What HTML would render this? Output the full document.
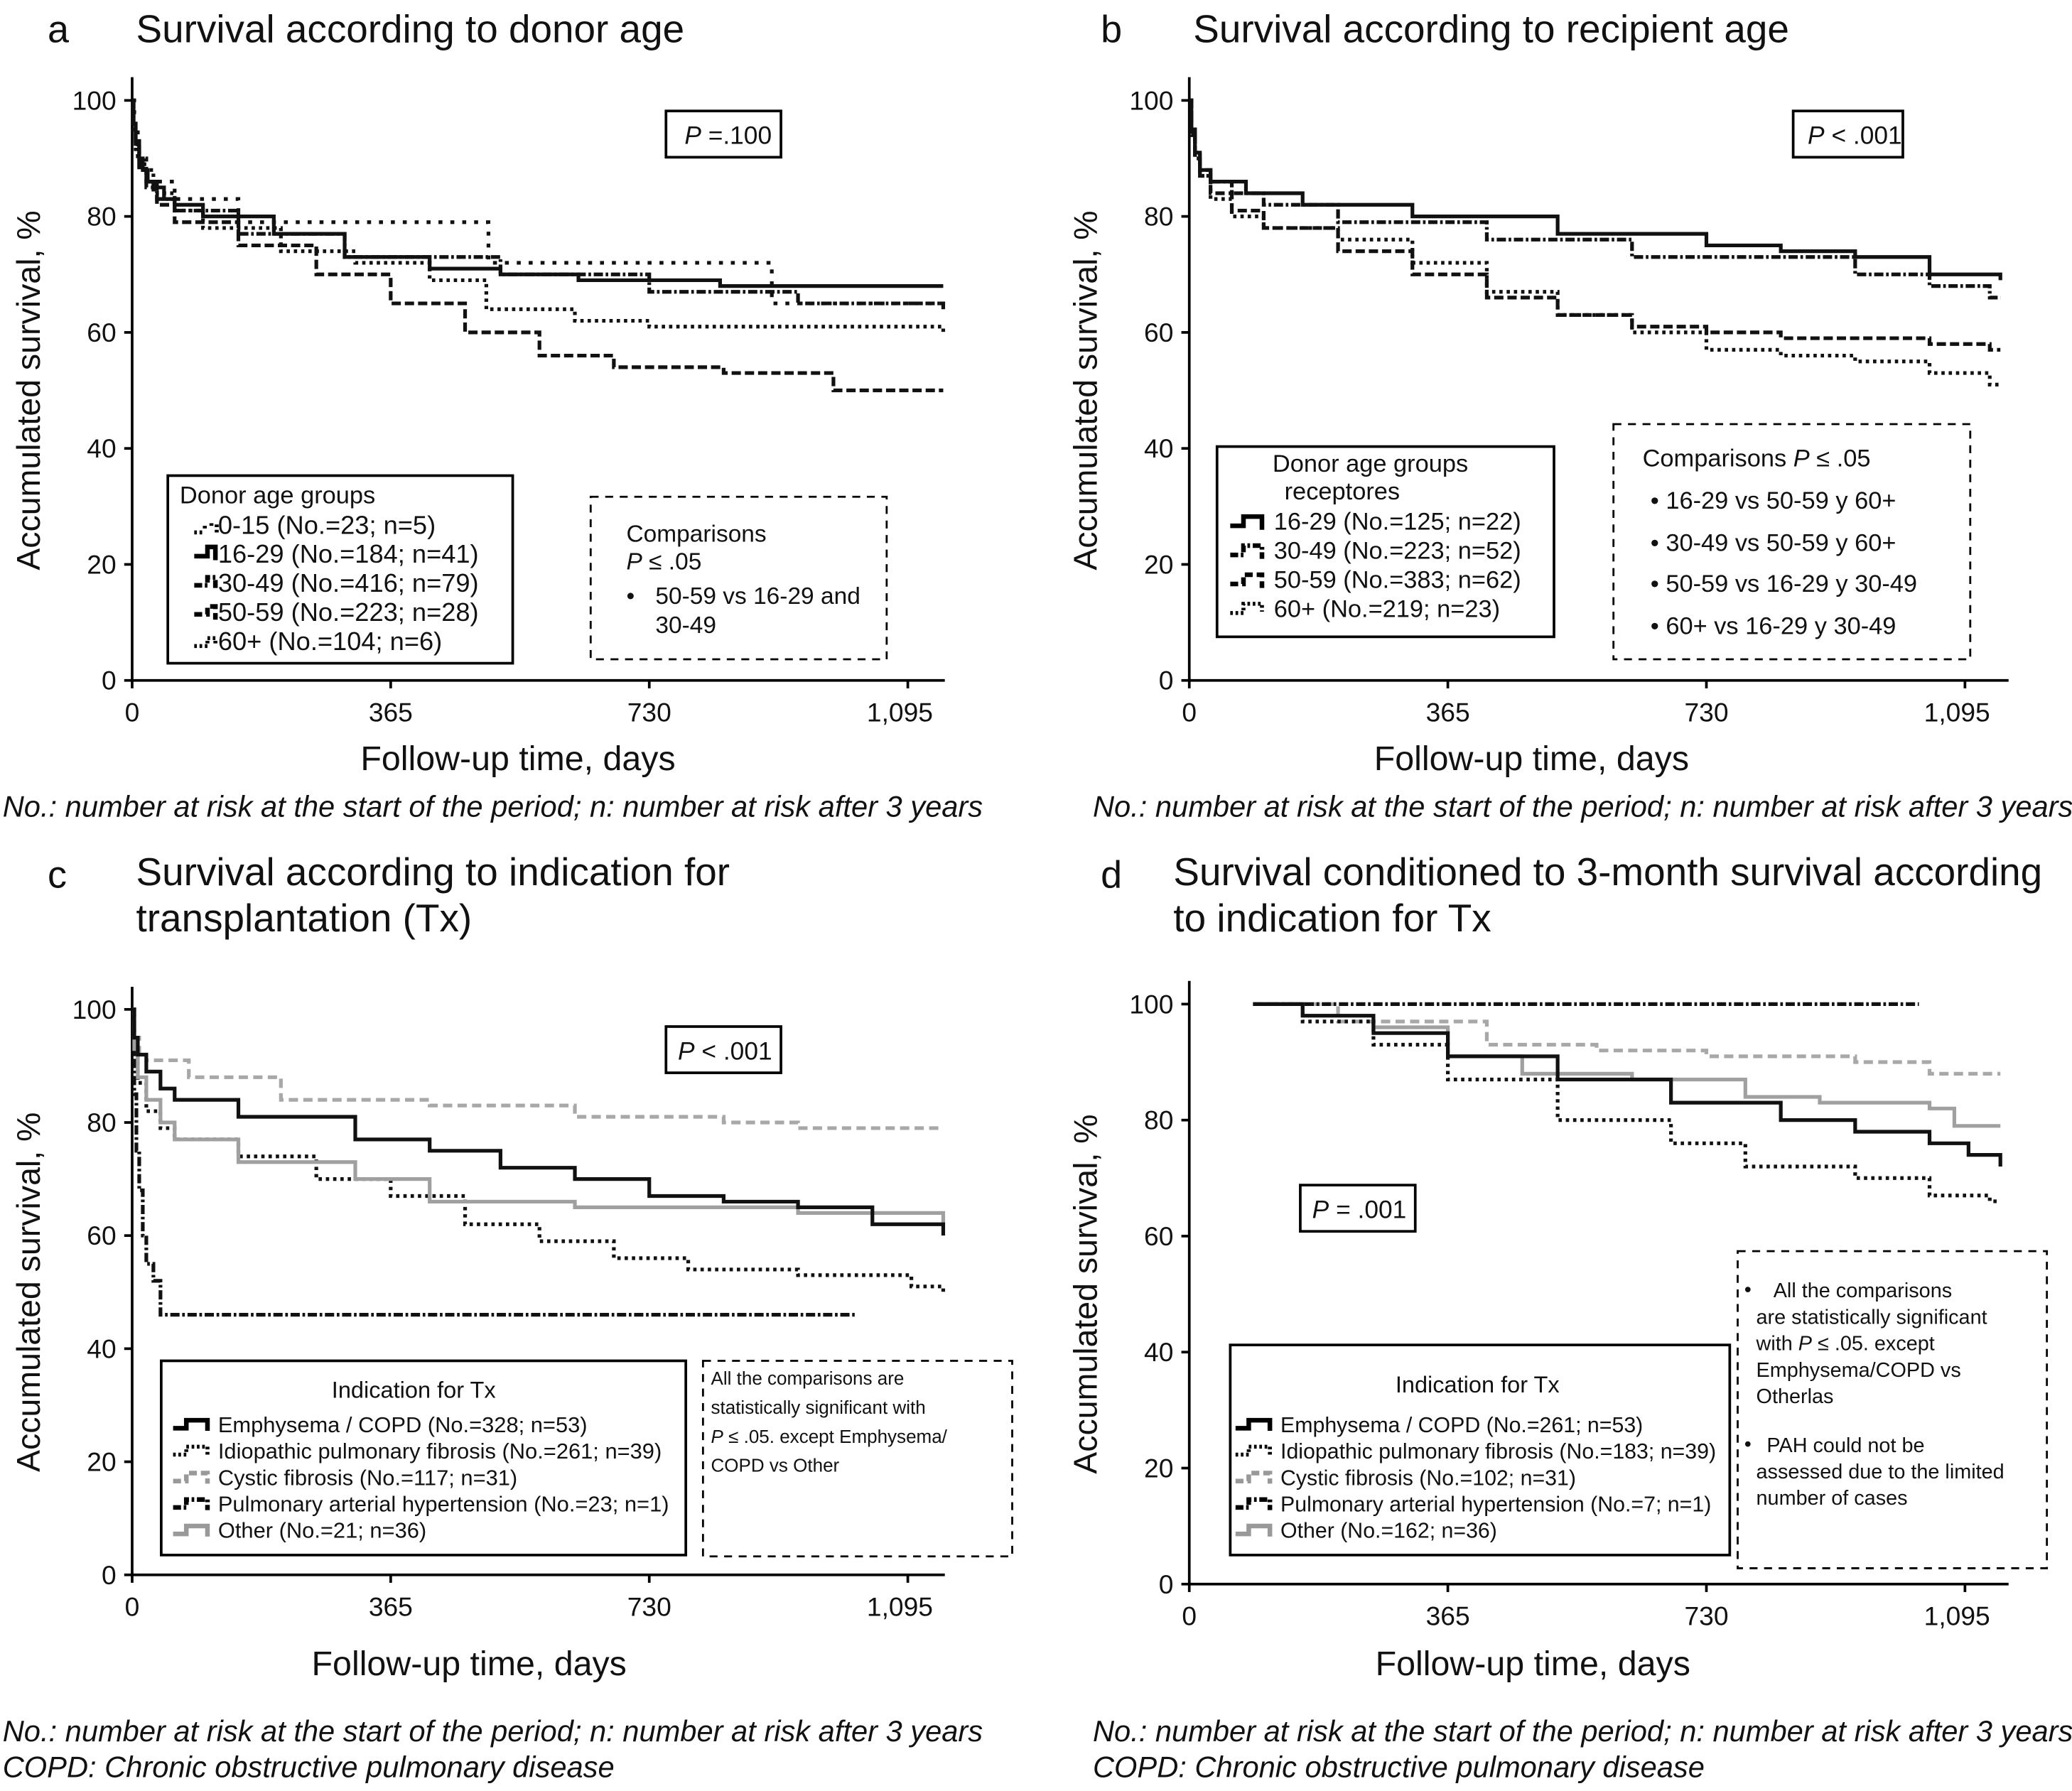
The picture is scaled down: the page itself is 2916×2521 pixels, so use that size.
<!DOCTYPE html>
<html><head><meta charset="utf-8"><style>
html,body{margin:0;padding:0;background:#fff;}
svg{display:block;}
text{font-family:"Liberation Sans",Arial,sans-serif;fill:#111;}
</style></head><body>
<svg id="fig" width="2916" height="2521" viewBox="0 0 1568 1355.6" preserveAspectRatio="none" xmlns="http://www.w3.org/2000/svg">
<rect width="1568" height="1356" fill="#fff"/>
<g id="static">
<text x="36" y="32" font-size="29">a</text>
<text x="103" y="32" font-size="29.5">Survival according to donor age</text>
<text x="833" y="32" font-size="29">b</text>
<text x="903" y="32" font-size="29.5">Survival according to recipient age</text>
<text x="36" y="672" font-size="29">c</text>
<text x="103" y="670" font-size="29.5">Survival according to indication for</text>
<text x="103" y="705" font-size="29.5">transplantation (Tx)</text>
<text x="833" y="672" font-size="29">d</text>
<text x="888" y="670" font-size="29.5">Survival conditioned to 3-month survival according</text>
<text x="888" y="705" font-size="29.5">to indication for Tx</text>
<text x="2" y="618" font-size="22.4" font-style="italic">No.: number at risk at the start of the period; n: number at risk after 3 years</text>
<text x="827" y="618" font-size="22.4" font-style="italic">No.: number at risk at the start of the period; n: number at risk after 3 years</text>
<text x="2" y="1318" font-size="22.4" font-style="italic">No.: number at risk at the start of the period; n: number at risk after 3 years</text>
<text x="2" y="1345" font-size="22.4" font-style="italic">COPD: Chronic obstructive pulmonary disease</text>
<text x="827" y="1318" font-size="22.4" font-style="italic">No.: number at risk at the start of the period; n: number at risk after 3 years</text>
<text x="827" y="1345" font-size="22.4" font-style="italic">COPD: Chronic obstructive pulmonary disease</text>

<g><rect x="504" y="84" width="87" height="35" fill="#fff" stroke="#000" stroke-width="2"/><text x="518" y="109" font-size="19"><tspan font-style="italic">P</tspan> =.100</text></g>
<g><rect x="1357" y="84" width="83" height="35" fill="#fff" stroke="#000" stroke-width="2"/><text x="1368" y="109" font-size="19"><tspan font-style="italic">P</tspan> &lt; .001</text></g>
<g><rect x="504" y="777" width="87" height="35" fill="#fff" stroke="#000" stroke-width="2"/><text x="513" y="802" font-size="19"><tspan font-style="italic">P</tspan> &lt; .001</text></g>
<g><rect x="984" y="897" width="87" height="35" fill="#fff" stroke="#000" stroke-width="2"/><text x="993" y="922" font-size="19"><tspan font-style="italic">P</tspan> = .001</text></g>

<g>
<rect x="127" y="360" width="261" height="142" fill="#fff" stroke="#000" stroke-width="2"/>
<text x="136" y="381" font-size="18.5">Donor age groups</text>
<text x="165" y="404" font-size="19.5">0-15 (No.=23; n=5)</text>
<text x="165" y="426" font-size="19.5">16-29 (No.=184; n=41)</text>
<text x="165" y="448" font-size="19.5">30-49 (No.=416; n=79)</text>
<text x="165" y="470" font-size="19.5">50-59 (No.=223; n=28)</text>
<text x="165" y="492" font-size="19.5">60+ (No.=104; n=6)</text>
<path d="M147 403 h6 M155 398 v4 M160 396 v3 M164 397 v6" stroke="#000" stroke-width="3" stroke-dasharray="2 2" fill="none"/>
<path d="M147 421 h10 v-7 h6 v10" stroke="#000" stroke-width="3.5" fill="none"/>
<path d="M147 443 h10 v-6 h6 v10" stroke="#000" stroke-width="3.5" stroke-dasharray="6 2 2 2" fill="none"/>
<path d="M147 465 h10 v-6 h6 v10" stroke="#000" stroke-width="3.5" stroke-dasharray="6 3" fill="none"/>
<path d="M147 489 h10 v-6 h6 v6" stroke="#000" stroke-width="3" stroke-dasharray="2 2" fill="none"/>
</g>
<g>
<rect x="447" y="376" width="224" height="123" fill="#fff" stroke="#000" stroke-width="1.5" stroke-dasharray="6 5"/>
<text x="474" y="410" font-size="18">Comparisons</text>
<text x="474" y="431" font-size="18"><tspan font-style="italic">P</tspan> ≤ .05</text>
<text x="474" y="457" font-size="18">•</text>
<text x="496" y="457" font-size="18">50-59 vs 16-29 and</text>
<text x="496" y="479" font-size="18">30-49</text>
</g>
<g>
<rect x="921" y="338" width="255" height="144" fill="#fff" stroke="#000" stroke-width="2"/>
<text x="963" y="357" font-size="18.5">Donor age groups</text>
<text x="972" y="378" font-size="18.5">receptores</text>
<text x="964" y="401" font-size="18.5">16-29 (No.=125; n=22)</text>
<text x="964" y="423" font-size="18.5">30-49 (No.=223; n=52)</text>
<text x="964" y="445" font-size="18.5">50-59 (No.=383; n=62)</text>
<text x="964" y="467" font-size="18.5">60+ (No.=219; n=23)</text>
<path d="M931 398 h10 v-7 h14 v10" stroke="#000" stroke-width="3.5" fill="none"/>
<path d="M931 420 h10 v-7 h14 v10" stroke="#000" stroke-width="3.5" stroke-dasharray="6 2 2 2" fill="none"/>
<path d="M931 442 h10 v-7 h14 v10" stroke="#000" stroke-width="3.5" stroke-dasharray="6 3" fill="none"/>
<path d="M931 464 h10 v-7 h14 v6" stroke="#000" stroke-width="3" stroke-dasharray="2 2" fill="none"/>
</g>
<g>
<rect x="1221" y="321" width="270" height="178" fill="#fff" stroke="#000" stroke-width="1.5" stroke-dasharray="6 5"/>
<text x="1243" y="353" font-size="18.5">Comparisons <tspan font-style="italic">P</tspan> ≤ .05</text>
<text x="1249" y="385" font-size="18.5">•   16-29 vs 50-59 y 60+</text>
<text x="1249" y="417" font-size="18.5">•   30-49 vs 50-59 y 60+</text>
<text x="1249" y="448" font-size="18.5">•  50-59 vs 16-29 y 30-49</text>
<text x="1249" y="480" font-size="18.5">•   60+ vs 16-29 y 30-49</text>
</g>
<g>
<rect x="122" y="1030" width="397" height="147" fill="#fff" stroke="#000" stroke-width="2"/>
<text x="251" y="1058" font-size="17.5">Indication for Tx</text>
<text x="165" y="1084" font-size="16.6">Emphysema / COPD (No.=328; n=53)</text>
<text x="165" y="1104" font-size="16.6">Idiopathic pulmonary fibrosis (No.=261; n=39)</text>
<text x="165" y="1124" font-size="16.6">Cystic fibrosis (No.=117; n=31)</text>
<text x="165" y="1144" font-size="16.6">Pulmonary arterial hypertension (No.=23; n=1)</text>
<text x="165" y="1164" font-size="16.6">Other (No.=21; n=36)</text>
<path d="M131 1081 h10 v-6 h16 v8" stroke="#000" stroke-width="3.5" fill="none"/>
<path d="M131 1101 h10 v-6 h16 v8" stroke="#000" stroke-width="3" stroke-dasharray="2 2" fill="none"/>
<path d="M131 1121 h10 v-6 h16 v8" stroke="#999" stroke-width="3.5" stroke-dasharray="6 3" fill="none"/>
<path d="M131 1141 h10 v-6 h16 v8" stroke="#000" stroke-width="3.5" stroke-dasharray="6 2 2 2" fill="none"/>
<path d="M131 1161 h10 v-6 h16 v8" stroke="#999" stroke-width="3.5" fill="none"/>
</g>
<g>
<rect x="532" y="1030" width="234" height="148" fill="#fff" stroke="#000" stroke-width="1.5" stroke-dasharray="6 5"/>
<text x="538" y="1048" font-size="14">All the comparisons are</text>
<text x="538" y="1070" font-size="14">statistically significant with</text>
<text x="538" y="1092" font-size="14"><tspan font-style="italic">P</tspan> ≤ .05. except Emphysema/</text>
<text x="538" y="1114" font-size="14">COPD vs Other</text>
</g>
<g>
<rect x="931" y="1018" width="378" height="159" fill="#fff" stroke="#000" stroke-width="2"/>
<text x="1056" y="1054" font-size="17.5">Indication for Tx</text>
<text x="969" y="1084" font-size="16.3">Emphysema / COPD (No.=261; n=53)</text>
<text x="969" y="1104" font-size="16.3">Idiopathic pulmonary fibrosis (No.=183; n=39)</text>
<text x="969" y="1124" font-size="16.3">Cystic fibrosis (No.=102; n=31)</text>
<text x="969" y="1144" font-size="16.3">Pulmonary arterial hypertension (No.=7; n=1)</text>
<text x="969" y="1164" font-size="16.3">Other (No.=162; n=36)</text>
<path d="M935 1081 h10 v-6 h16 v8" stroke="#000" stroke-width="3.5" fill="none"/>
<path d="M935 1101 h10 v-6 h16 v8" stroke="#000" stroke-width="3" stroke-dasharray="2 2" fill="none"/>
<path d="M935 1121 h10 v-6 h16 v8" stroke="#999" stroke-width="3.5" stroke-dasharray="6 3" fill="none"/>
<path d="M935 1141 h10 v-6 h16 v8" stroke="#000" stroke-width="3.5" stroke-dasharray="6 2 2 2" fill="none"/>
<path d="M935 1161 h10 v-6 h16 v8" stroke="#999" stroke-width="3.5" fill="none"/>
</g>
<g>
<rect x="1315" y="947" width="234" height="240" fill="#fff" stroke="#000" stroke-width="1.5" stroke-dasharray="6 5"/>
<text x="1320" y="981" font-size="15.5">•</text>
<text x="1342" y="982" font-size="15.5">All the comparisons</text>
<text x="1329" y="1002" font-size="15.5">are statistically significant</text>
<text x="1329" y="1022" font-size="15.5">with <tspan font-style="italic">P</tspan> ≤ .05. except</text>
<text x="1329" y="1042" font-size="15.5">Emphysema/COPD vs</text>
<text x="1329" y="1062" font-size="15.5">Otherlas</text>
<text x="1320" y="1098" font-size="15.5">•</text>
<text x="1337" y="1099" font-size="15.5">PAH could not be</text>
<text x="1329" y="1119" font-size="15.5">assessed due to the limited</text>
<text x="1329" y="1139" font-size="15.5">number of cases</text>
</g>
</g>
<g id="charts"></g>
</svg>
<script>
// ---- data (days, % survival) ----
const ticksX = [0, 365, 730, 1095];
const tickLabelsX = ["0", "365", "730", "1,095"];
const ticksY = [0, 20, 40, 60, 80, 100];

const aT_0_15 = [0,3,8,20,60,150,503,903,1145];
const aS_0_15 = [100,95,90,86,83,79,72,65,64];
const aT_16_29 = [0,2,5,10,15,22,30,45,60,100,200,300,420,520,630,830,1145];
const aS_16_29 = [100,96,93,90,88,86,85,83,82,80,77,73,71,70,69,68,68];
const aT_30_49 = [0,2,5,10,20,35,60,150,300,520,730,940,1145];
const aS_30_49 = [100,96,92,89,86,83,81,77,73,70,67,65,64];
const aT_50_59 = [0,2,5,10,20,35,60,150,260,365,470,575,680,835,990,1145];
const aS_50_59 = [100,96,92,88,85,82,79,75,70,65,60,56,54,53,50,50];
const aT_60 = [0,2,5,10,30,60,100,210,315,420,500,625,730,1130,1145];
const aS_60 = [100,95,91,88,84,81,78,74,72,69,64,62,61,61,60];

const bT_16_29 = [0,3,8,15,30,80,160,315,520,730,835,940,1045,1145];
const bS_16_29 = [100,95,91,88,86,84,82,80,77,75,74,73,70,69];
const bT_30_49 = [0,3,8,15,30,60,105,210,420,625,835,940,1045,1130,1145];
const bS_30_49 = [100,95,91,88,86,84,82,79,76,73,73,70,68,66,66];
const bT_50_59 = [0,3,8,15,30,60,105,210,315,420,520,625,730,835,1045,1130,1145];
const bS_50_59 = [100,94,90,87,84,81,78,74,70,66,63,61,60,59,58,57,57];
const bT_60 = [0,3,8,15,30,60,105,210,315,420,520,625,730,835,940,1045,1130,1145];
const bS_60 = [100,94,90,87,83,80,78,76,72,67,63,60,57,56,55,53,51,51];

const cT_emph = [0,3,8,20,40,60,150,315,420,520,625,730,835,940,1045,1145];
const cS_emph = [100,95,92,89,86,84,81,77,75,72,70,67,66,65,62,60];
const cT_ipf = [0,3,8,20,40,60,150,260,365,470,575,680,785,940,1100,1145];
const cS_ipf = [100,92,87,82,79,77,74,70,67,62,59,56,54,53,51,50];
const cT_cf = [0,3,10,20,80,210,420,625,835,940,1145];
const cS_cf = [100,95,92,91,88,84,83,81,80,79,79];
const cT_pah = [0,3,6,10,15,20,30,40,1020];
const cS_pah = [100,85,75,68,60,55,52,46,46];
const cT_other = [0,3,8,20,40,60,150,315,420,625,835,940,1145];
const cS_other = [100,93,88,84,80,77,73,70,66,65,65,64,62];

const dT_pah = [90,1030];
const dS_pah = [100,100];
const dT_cf = [90,210,420,575,730,940,1045,1145];
const dS_cf = [100,97,93,92,91,90,88,88];
const dT_emph = [90,160,260,365,520,680,835,940,1045,1100,1145];
const dS_emph = [100,98,95,91,87,83,80,78,76,74,72];
const dT_other = [90,160,260,365,470,625,785,890,1045,1080,1145];
const dS_other = [100,98,96,91,88,87,84,83,82,79,79];
const dT_ipf = [90,160,260,365,520,680,785,940,1045,1130,1145];
const dS_ipf = [100,97,93,87,80,76,72,70,67,66,66];

const NS = "http://www.w3.org/2000/svg";
const root = document.getElementById("charts");
function el(tag, attrs, parent){
  const e = document.createElementNS(NS, tag);
  for (const k in attrs) e.setAttribute(k, attrs[k]);
  (parent||root).appendChild(e);
  return e;
}
const styles = {
  solid:{stroke:"#111", dash:"none", w:2.8},
  dotted:{stroke:"#111", dash:"2.5 3", w:2.8},
  dashed:{stroke:"#111", dash:"7 3", w:2.8},
  dashdot:{stroke:"#111", dash:"7 2 2 2", w:2.8},
  sparse:{stroke:"#111", dash:"3 6", w:2.8},
  graydash:{stroke:"#a8a8a8", dash:"7 4", w:2.8},
  graysolid:{stroke:"#a0a0a0", dash:"none", w:2.8}
};
function panel(id, x0, x1095, y0, y100, xEnd, titleX, titleY, series){
  const g = el("g", {});
  
  
  const sx = d => x0 + d * (x1095 - x0) / 1095;
  const sy = v => y0 - v * (y0 - y100) / 100;
  const axes = el("path", {d:`M${x0} ${sy(104)} V${y0} H${xEnd}`, stroke:"#000", "stroke-width":2, fill:"none"}, g);
  
  
  ticksY.forEach(v=>{
    el("line",{x1:x0-6,x2:x0,y1:sy(v),y2:sy(v),stroke:"#000","stroke-width":2},g);
    const t = el("text",{x:x0-12,y:sy(v)+7,"font-size":20,"text-anchor":"end"},g);
    
    
    t.textContent = v;
  });
  ticksX.forEach((d,i)=>{
    el("line",{x1:sx(d),x2:sx(d),y1:y0,y2:y0+6,stroke:"#000","stroke-width":2},g);
    const t = el("text",{x:sx(d)-(i==3?6:0),y:y0+31,"font-size":20,"text-anchor":"middle"},g);
    
    
    t.textContent = tickLabelsX[i];
  });
  const xt = el("text",{x:titleX,y:titleY,"font-size":26,"text-anchor":"middle"},g);
  
  
  xt.textContent = "Follow-up time, days";
  const cy = (y0+y100)/2;
  const yt = el("text",{x:x0-70,y:cy,"font-size":25,"text-anchor":"middle",transform:`rotate(-90 ${x0-70} ${cy})`},g);
  
  
  yt.textContent = "Accumulated survival, %";
  series.forEach(s=>{
    const T = s[0], S = s[1], st = styles[s[2]];
    let d = `M${sx(T[0])} ${sy(S[0])}`;
    for (let i=1;i<T.length;i++){ d += ` H${sx(T[i])} V${sy(S[i])}`; }
    const p = el("path",{d:d,stroke:st.stroke,"stroke-width":st.w,"stroke-dasharray":st.dash,fill:"none"},g);
    
    
  });
  root.appendChild(g);
}
panel("a",100,687,515,76,715,392,583,[
  [aT_60,aS_60,"dotted","60plus"],
  [aT_50_59,aS_50_59,"dashed","50-59"],
  [aT_30_49,aS_30_49,"dashdot","30-49"],
  [aT_0_15,aS_0_15,"sparse","0-15"],
  [aT_16_29,aS_16_29,"solid","16-29"]
]);
panel("b",900,1487,515,76,1520,1159,583,[
  [bT_60,bS_60,"dotted","60plus"],
  [bT_50_59,bS_50_59,"dashed","50-59"],
  [bT_30_49,bS_30_49,"dashdot","30-49"],
  [bT_16_29,bS_16_29,"solid","16-29"]
]);
panel("c",100,687,1192,764,715,355,1268,[
  [cT_cf,cS_cf,"graydash","cystic-fibrosis"],
  [cT_pah,cS_pah,"dashdot","pah"],
  [cT_ipf,cS_ipf,"dotted","ipf"],
  [cT_other,cS_other,"graysolid","other"],
  [cT_emph,cS_emph,"solid","emphysema"]
]);
panel("d",900,1487,1199,760,1520,1160,1268,[
  [dT_cf,dS_cf,"graydash","cystic-fibrosis"],
  [dT_pah,dS_pah,"dashdot","pah"],
  [dT_ipf,dS_ipf,"dotted","ipf"],
  [dT_other,dS_other,"graysolid","other"],
  [dT_emph,dS_emph,"solid","emphysema"]
]);
const fig = document.getElementById("fig");
fig.appendChild(document.getElementById("static"));
</script>
</body></html>
